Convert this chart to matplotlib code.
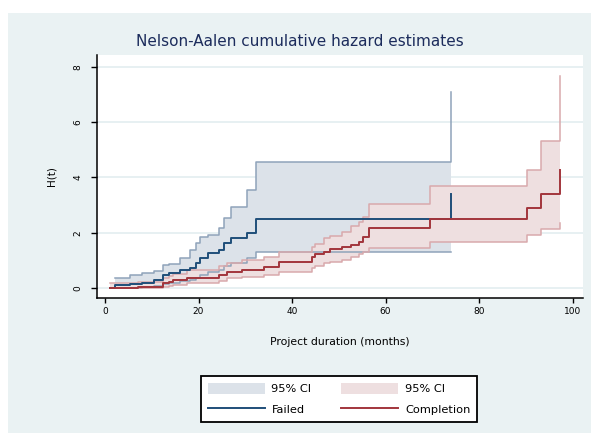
import numpy as np
import matplotlib
matplotlib.use("Agg")
import matplotlib.pyplot as plt
from matplotlib.patches import Rectangle, Patch
from matplotlib.lines import Line2D

# Failed projects: event times, Nelson-Aalen estimate and 95% CI
t_fail = [2.2, 5.4, 7.9, 10.4, 12.5, 13.6, 16.0, 18.2, 19.5, 20.4, 22.0, 24.3,
          25.4, 27.0, 30.4, 32.2, 74.0]
h_fail = [0.12, 0.14, 0.20, 0.30, 0.48, 0.55, 0.66, 0.72, 0.90, 1.08, 1.26, 1.38,
          1.62, 1.80, 1.99, 2.49, 3.40]
up_fail = [0.36, 0.48, 0.56, 0.64, 0.84, 0.88, 1.08, 1.38, 1.62, 1.86, 1.92, 2.16,
           2.52, 2.94, 3.55, 4.57, 7.10]
lo_fail = [0.01, 0.02, 0.04, 0.08, 0.15, 0.20, 0.26, 0.30, 0.38, 0.48, 0.60, 0.66,
           0.80, 0.92, 1.08, 1.32, 1.32]

# Completed projects
t_comp = [1.1, 7.1, 12.5, 13.6, 14.6, 17.5, 24.3, 26.0, 29.3, 33.9, 37.1, 44.3,
          45.0, 46.8, 48.2, 50.7, 52.5, 54.3, 55.2, 56.4, 69.5, 90.3, 93.3, 97.3]
h_comp = [0.01, 0.06, 0.18, 0.24, 0.30, 0.36, 0.48, 0.58, 0.66, 0.76, 0.96, 1.14,
          1.22, 1.30, 1.40, 1.50, 1.58, 1.68, 1.84, 2.16, 2.50, 2.89, 3.39, 4.27]
up_comp = [0.18, 0.22, 0.36, 0.45, 0.50, 0.66, 0.80, 0.93, 1.02, 1.14, 1.32, 1.50,
           1.60, 1.80, 1.90, 2.02, 2.25, 2.40, 2.58, 3.03, 3.69, 4.27, 5.30, 7.65]
lo_comp = [0.00, 0.01, 0.06, 0.08, 0.12, 0.18, 0.26, 0.36, 0.40, 0.48, 0.60, 0.75,
           0.82, 0.90, 0.96, 1.02, 1.14, 1.23, 1.30, 1.45, 1.68, 1.93, 2.13, 2.37]

x_ticks = [0, 20, 40, 60, 80, 100]
y_ticks = [0, 2, 4, 6, 8]

navy = "#1f4e79"
navy_ci = "#8fa3ba"
navy_fill = "#dce2e9"
maroon = "#a2353c"
maroon_ci = "#d9a9ac"
maroon_fill = "#eedfe0"

W, H = 591, 433
fig = plt.figure(figsize=(W / 100, H / 100), dpi=100, facecolor="white")
# light bluish graph region
fig.patches.append(Rectangle((8 / W, 0), 1 - 8 / W, 1 - 13 / H, transform=fig.transFigure,
                             facecolor="#eaf2f3", edgecolor="none", zorder=-10))

ax = fig.add_axes([96.7 / W, 1 - 297.7 / H, (583 - 96.7) / W, (297.7 - 55) / H])
ax.set_facecolor("white")
ax.set_xlim(-1.77, 102.2)
ax.set_ylim(-0.34, 8.42)

for yv in y_ticks:
    ax.axhline(yv, color="#e3edf0", lw=1.2, zorder=0.5)

# confidence bands
ax.fill_between(t_fail, lo_fail, up_fail, step="post", color=navy_fill, lw=0, zorder=1)
ax.fill_between(t_comp, lo_comp, up_comp, step="post", color=maroon_fill, lw=0, zorder=1.2)
ax.step(t_fail, up_fail, where="post", color=navy_ci, lw=1.1, zorder=2)
ax.step(t_fail, lo_fail, where="post", color=navy_ci, lw=1.1, zorder=2)
ax.step(t_comp, up_comp, where="post", color=maroon_ci, lw=1.1, zorder=2.2)
ax.step(t_comp, lo_comp, where="post", color=maroon_ci, lw=1.1, zorder=2.2)

# estimates
ax.step([1.0] + t_fail, [0.0] + h_fail, where="post", color=navy, lw=1.4, zorder=3)
ax.step(t_comp, h_comp, where="post", color=maroon, lw=1.4, zorder=3.2)

for s in ["top", "right"]:
    ax.spines[s].set_visible(False)
for s in ["left", "bottom"]:
    ax.spines[s].set_linewidth(1.1)
    ax.spines[s].set_color("black")

ax.set_xticks(x_ticks)
ax.set_yticks(y_ticks)
ax.tick_params(axis="x", length=3.5, width=1, labelsize=6.5, pad=3)
ax.tick_params(axis="y", length=4.5, width=1, labelsize=6.5, pad=6, labelrotation=90)
for lab in ax.get_yticklabels():
    lab.set_verticalalignment("center")

ax.set_xlabel("Project duration (months)", fontsize=7.8, labelpad=15)
ax.set_ylabel("H(t)", fontsize=7.5, labelpad=12)

fig.text(300 / W, 1 - 42 / H, "Nelson-Aalen cumulative hazard estimates",
         ha="center", va="center", fontsize=11, color="#1c2c5c")

handles = [Patch(facecolor=navy_fill, edgecolor="none"),
           Line2D([], [], color=navy, lw=1.4),
           Patch(facecolor=maroon_fill, edgecolor="none"),
           Line2D([], [], color=maroon, lw=1.4)]
labels = ["95% CI", "Failed", "95% CI", "Completion"]
leg = fig.legend(handles, labels, ncol=2, loc="center",
                 bbox_to_anchor=(339 / W, 1 - 399 / H), fontsize=8.2,
                 frameon=True, fancybox=False, edgecolor="black", framealpha=1,
                 handlelength=5.0, handleheight=1.1, handletextpad=0.6,
                 columnspacing=2.6, labelspacing=0.8, borderpad=0.6)
leg.get_frame().set_linewidth(1.3)

fig.savefig("out.png", dpi=100, facecolor="white")
